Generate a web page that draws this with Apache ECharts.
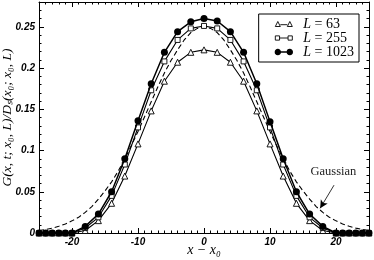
<!DOCTYPE html>
<html><head><meta charset="utf-8">
<script src="https://cdn.jsdelivr.net/npm/echarts@6/dist/echarts.min.js"></script>
<style>html,body{margin:0;padding:0;background:#fff}#c{width:374px;height:260px}</style>
</head><body><div id="c"></div>
<script>
const xs = [-25,-24,-23,-22,-21,-20,-18,-16,-14,-12,-10,-8,-6,-4,-2,0,2,4,6,8,10,12,14,16,18,20,21,22,23,24,25];
const L63 = [0,0,0,0,0,0,0.003,0.015,0.036,0.069,0.108,0.148,0.184,0.207,0.219,0.222,0.219,0.207,0.184,0.148,0.108,0.069,0.036,0.015,0.003,0,0,0,0,0,0];
const L255 = [0,0,0,0,0,0,0.006,0.019,0.045,0.083,0.128,0.173,0.208,0.234,0.248,0.251,0.248,0.234,0.208,0.173,0.128,0.083,0.045,0.019,0.006,0,0,0,0,0,0];
const L1023 = [0,0,0,0,0,0,0.008,0.023,0.050,0.090,0.136,0.181,0.219,0.244,0.256,0.260,0.257,0.244,0.219,0.181,0.135,0.090,0.050,0.023,0.008,0,0,0,0,0,0];
const gx = [-25,-24,-23,-22,-21,-20,-19,-18,-17,-16,-15,-14,-13,-12,-11,-10,-9,-8,-7,-6,-5,-4,-3,-2,-1,0,1,2,3,4,5,6,7,8,9,10,11,12,13,14,15,16,17,18,19,20,21,22,23,24,25];
const gauss = [0.003,0.0042,0.0059,0.0081,0.011,0.0147,0.019,0.025,0.032,0.041,0.051,0.062,0.075,0.090,0.106,0.123,0.141,0.159,0.177,0.194,0.209,0.222,0.234,0.243,0.248,0.250,0.248,0.243,0.234,0.222,0.209,0.194,0.177,0.159,0.141,0.123,0.106,0.090,0.075,0.062,0.051,0.041,0.032,0.025,0.019,0.0147,0.011,0.0081,0.0059,0.0042,0.003];
const xMajor = [-20,-10,0,10,20];
const yMajor = [0,0.05,0.1,0.15,0.2,0.25];
const names = ['L = 63','L = 255','L = 1023'];

const pairs = (a,b)=>a.map((x,i)=>[x,b[i]]);
const tickLbl = {fontFamily:'Liberation Sans',fontWeight:'bold',fontStyle:'italic',fontSize:10,color:'#000'};
function xa(pos, major, labels){
  return {type:'value',position:pos,min:-25,max:25,interval:1,
    axisLine:{show:!major,onZero:false,lineStyle:{color:'#000',width:1}},
    axisTick:major?{show:true,inside:true,length:5,customValues:xMajor,lineStyle:{color:'#000'}}:{show:true,inside:true,length:2.5,lineStyle:{color:'#000'}},
    axisLabel:labels?Object.assign({show:true,customValues:xMajor,margin:4},tickLbl):{show:false},
    splitLine:{show:false}};
}
function ya(pos, major, labels){
  return {type:'value',position:pos,min:0,max:0.28,interval:0.01,
    axisLine:{show:!major,onZero:false,lineStyle:{color:'#000',width:1}},
    axisTick:major?{show:true,inside:true,length:5,customValues:yMajor,lineStyle:{color:'#000'}}:{show:true,inside:true,length:2.5,lineStyle:{color:'#000'}},
    axisLabel:labels?Object.assign({show:true,customValues:yMajor,margin:4},tickLbl):{show:false},
    splitLine:{show:false}};
}
const xAxes=[xa('bottom',false,true),xa('bottom',true,false),xa('top',false,false),xa('top',true,false)];
xAxes[0].name='x − x₀';
xAxes[0].nameLocation='middle';
xAxes[0].nameGap=10;
xAxes[0].nameMoveOverlap=false;
xAxes[0].nameTextStyle={fontFamily:'Liberation Serif',fontStyle:'italic',fontSize:14,color:'#000'};
const yAxes=[ya('left',false,true),ya('left',true,false),ya('right',false,false),ya('right',true,false)];
yAxes[0].name='G(x, t; x₀, L)/Dₛ(x₀; x₀, L)';
yAxes[0].nameLocation='middle';
yAxes[0].nameGap=25;
yAxes[0].nameMoveOverlap=false;
yAxes[0].nameTextStyle={fontFamily:'Liberation Serif',fontStyle:'italic',fontSize:13.5,color:'#000'};

const icons = [
  'path://M0,5 L2.5,0 L5,5 Z M5,3.2 L12,3.2 M12,5 L14.5,0 L17,5 Z',
  'path://M0.5,0.5 L4.5,0.5 L4.5,4.5 L0.5,4.5 Z M4.5,2.5 L12.5,2.5 M12.5,0.5 L16.5,0.5 L16.5,4.5 L12.5,4.5 Z',
  'path://M0,2.5 A2.5,2.5 0 1,0 5,2.5 A2.5,2.5 0 1,0 0,2.5 Z M5,2.5 L12,2.5 M12,2.5 A2.5,2.5 0 1,0 17,2.5 A2.5,2.5 0 1,0 12,2.5 Z'
];

const chart = echarts.init(document.getElementById('c'),null,{renderer:'canvas'});
chart.setOption({
  animation:false,
  backgroundColor:'#fff',
  grid:{left:39,right:5,top:2,bottom:27,containLabel:false,outerBoundsMode:'none'},
  xAxis:xAxes, yAxis:yAxes,
  legend:{data:[
      {name:names[0],icon:icons[0],itemStyle:{color:'#fff',borderColor:'#000',borderWidth:0.9}},
      {name:names[1],icon:icons[1],itemStyle:{color:'#fff',borderColor:'#000',borderWidth:0.9}},
      {name:names[2],icon:icons[2],itemStyle:{color:'#000',borderColor:'#000',borderWidth:1.3}}],
    orient:'vertical',right:15,top:14,backgroundColor:'#fff',
    borderColor:'#000',borderWidth:1,borderRadius:0,padding:[3,5,3,16],itemGap:0,
    itemWidth:17,itemHeight:5,
    formatter:n=>'{i|L}'+n.slice(1),
    textStyle:{fontFamily:'Liberation Serif',fontSize:14,color:'#000',lineHeight:10,
      rich:{i:{fontFamily:'Liberation Serif',fontStyle:'italic',fontSize:14,color:'#000',lineHeight:10,padding:[0,0,0,6]}}}},
  series:[
    {name:'Gaussian',type:'line',data:pairs(gx,gauss),showSymbol:false,symbol:'none',smooth:false,
     lineStyle:{color:'#000',width:1.1,type:[5,3]},z:1,
     markLine:{silent:true,symbol:['none','arrow'],symbolSize:[6,8],
       lineStyle:{color:'#000',width:0.8,type:'solid'},label:{show:false},
       data:[[{coord:[19.7,0.058]},{coord:[17.6,0.030]}]]},
     markPoint:{silent:true,symbol:'circle',symbolSize:0,
       label:{show:true,position:'inside',formatter:'Gaussian',fontFamily:'Liberation Serif',fontSize:12.5,color:'#222'},
       data:[{coord:[19.6,0.074]}]}},
    {name:names[0],type:'line',data:pairs(xs,L63),symbol:'triangle',symbolSize:6,
     lineStyle:{color:'#000',width:1.1},itemStyle:{color:'#fff',borderColor:'#000',borderWidth:0.9},z:2},
    {name:names[1],type:'line',data:pairs(xs,L255),symbol:'rect',symbolSize:5,
     lineStyle:{color:'#000',width:1.1},itemStyle:{color:'#fff',borderColor:'#000',borderWidth:0.9},z:3},
    {name:names[2],type:'line',data:pairs(xs,L1023),symbol:'circle',symbolSize:7,
     lineStyle:{color:'#000',width:1.5},itemStyle:{color:'#000',borderColor:'#000',borderWidth:0},z:4}
  ]
});
</script></body></html>
